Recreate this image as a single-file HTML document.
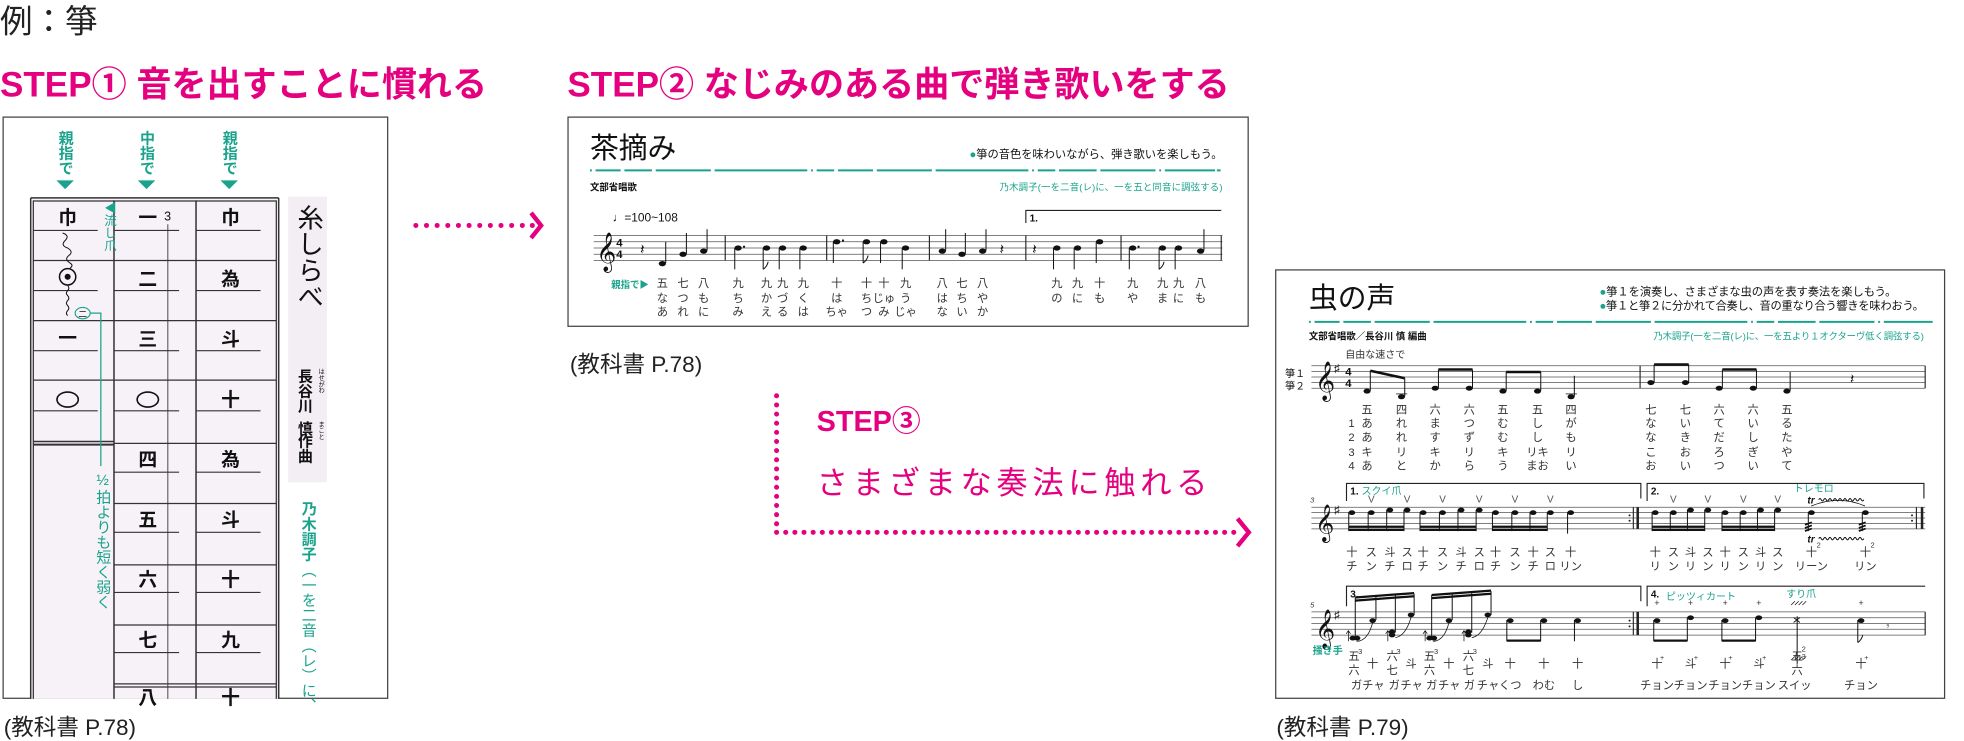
<!DOCTYPE html>
<html><head><meta charset="utf-8">
<style>
html,body{margin:0;padding:0;background:#fff;}
svg{display:block;}
text{font-family:"Liberation Sans","Noto Sans CJK JP",sans-serif;}
.v{writing-mode:vertical-rl;}
.t{fill:#1aa38c;}
.m{fill:#e4007f;}
</style></head>
<body>
<svg width="1964" height="741" viewBox="0 0 1568 591.6" preserveAspectRatio="none" xmlns="http://www.w3.org/2000/svg">
<!-- headings -->
<text x="0" y="26" font-size="26" fill="#222">例：箏</text>
<text x="0" y="77" font-size="28" font-weight="bold" class="m">STEP① 音を出すことに慣れる</text>
<text x="453" y="77" font-size="28" font-weight="bold" class="m">STEP② なじみのある曲で弾き歌いをする</text>
<text x="652" y="344" font-size="23" font-weight="bold" class="m">STEP③</text>
<text x="652" y="394" font-size="25" class="m" textLength="312">さまざまな奏法に触れる</text>

<!-- arrows -->
<g fill="#e4007f">
<circle cx="332" cy="180" r="2"/><circle cx="340.5" cy="180" r="2"/><circle cx="349" cy="180" r="2"/><circle cx="357.5" cy="180" r="2"/><circle cx="366" cy="180" r="2"/><circle cx="374.5" cy="180" r="2"/><circle cx="383" cy="180" r="2"/><circle cx="391.5" cy="180" r="2"/><circle cx="400" cy="180" r="2"/><circle cx="408.5" cy="180" r="2"/><circle cx="417" cy="180" r="2"/><circle cx="425" cy="180" r="2"/>
</g>
<polyline points="424,170 432,180 424,190" fill="none" stroke="#e4007f" stroke-width="3.5"/>
<line x1="620" y1="316" x2="620" y2="425" stroke="#e4007f" stroke-width="4" stroke-linecap="round" stroke-dasharray="0 7.3"/>
<line x1="620" y1="425" x2="992" y2="425" stroke="#e4007f" stroke-width="4" stroke-linecap="round" stroke-dasharray="0 7.3"/>
<polyline points="988,414 997,425 988,436" fill="none" stroke="#e4007f" stroke-width="3.5"/>

<!-- captions -->
<text x="3" y="587" font-size="18" fill="#222">(教科書 P.78)</text>
<text x="455" y="297" font-size="18" fill="#222">(教科書 P.78)</text>
<text x="1019" y="587" font-size="18" fill="#222">(教科書 P.79)</text>

<!-- ================= BOX 1 ================= -->
<rect x="2.5" y="93.5" width="307" height="464" fill="#fff" stroke="#444" stroke-width="1"/>
<g font-size="12" font-weight="bold" class="t">
<text x="52" y="104" class="v">親指で</text>
<text x="117" y="104" class="v">中指で</text>
<text x="183" y="104" class="v">親指で</text>
</g>
<g class="t"><polygon points="45,144 59,144 52,151"/><polygon points="110,144 124,144 117,151"/><polygon points="176,144 190,144 183,151"/></g>
<!-- table -->
<rect x="24.5" y="158" width="198" height="400" fill="#f7f2f7"/>
<g stroke="#333" fill="none">
<line x1="24.5" y1="158" x2="24.5" y2="558" stroke-width="1.2"/>
<line x1="222.5" y1="158" x2="222.5" y2="558" stroke-width="1.2"/>
<line x1="24.5" y1="158" x2="222.5" y2="158" stroke-width="1.2"/>
<line x1="26.6" y1="160" x2="26.6" y2="558" stroke-width="1"/>
<line x1="220.6" y1="160" x2="220.6" y2="558" stroke-width="1"/>
<line x1="26.6" y1="160.5" x2="220.6" y2="160.5" stroke-width="1"/>
<line x1="91" y1="160" x2="91" y2="558" stroke-width="1.2"/>
<line x1="156.5" y1="160" x2="156.5" y2="558" stroke-width="1.2"/>
<line x1="134" y1="179" x2="134" y2="558" stroke-width="0.7"/>
<!-- row lines all columns -->
<line x1="26.6" y1="208" x2="220.6" y2="208" stroke-width="1"/>
<line x1="26.6" y1="256" x2="220.6" y2="256" stroke-width="1"/>
<line x1="26.6" y1="303.5" x2="220.6" y2="303.5" stroke-width="1"/>
<line x1="26.6" y1="352.5" x2="91" y2="352.5" stroke-width="1.2"/>
<line x1="26.6" y1="355" x2="91" y2="355" stroke-width="1.6"/>
<line x1="91" y1="354" x2="220.6" y2="354" stroke-width="1"/>
<line x1="91" y1="402" x2="220.6" y2="402" stroke-width="1"/>
<line x1="91" y1="451" x2="220.6" y2="451" stroke-width="1"/>
<line x1="91" y1="499" x2="220.6" y2="499" stroke-width="1"/>
<line x1="91" y1="546" x2="220.6" y2="546" stroke-width="1"/>
<line x1="91" y1="548.5" x2="220.6" y2="548.5" stroke-width="1"/>
<!-- mid lines -->
<g stroke-width="0.9">
<line x1="26.6" y1="184" x2="78" y2="184"/><line x1="91" y1="184" x2="143" y2="184"/><line x1="156.5" y1="184" x2="208" y2="184"/>
<line x1="26.6" y1="232" x2="78" y2="232"/><line x1="91" y1="232" x2="143" y2="232"/><line x1="156.5" y1="232" x2="208" y2="232"/>
<line x1="26.6" y1="280" x2="78" y2="280"/><line x1="91" y1="280" x2="143" y2="280"/><line x1="156.5" y1="280" x2="208" y2="280"/>
<line x1="26.6" y1="328" x2="78" y2="328"/><line x1="91" y1="328" x2="143" y2="328"/><line x1="156.5" y1="328" x2="208" y2="328"/>
<line x1="91" y1="377" x2="143" y2="377"/><line x1="156.5" y1="377" x2="208" y2="377"/>
<line x1="91" y1="425" x2="143" y2="425"/><line x1="156.5" y1="425" x2="208" y2="425"/>
<line x1="91" y1="473" x2="143" y2="473"/><line x1="156.5" y1="473" x2="208" y2="473"/>
<line x1="91" y1="521" x2="143" y2="521"/><line x1="156.5" y1="521" x2="208" y2="521"/>
</g>
</g>
<g font-size="15" font-weight="bold" fill="#111" text-anchor="middle">
<text x="54" y="179">巾</text><text x="54" y="275">一</text>
<text x="118" y="179">一</text><text x="118" y="228">二</text><text x="118" y="276">三</text>
<text x="118" y="372">四</text><text x="118" y="420">五</text><text x="118" y="468">六</text><text x="118" y="516">七</text><text x="118" y="562">八</text>
<text x="184" y="179">巾</text><text x="184" y="228">為</text><text x="184" y="276">斗</text><text x="184" y="324">十</text>
<text x="184" y="372">為</text><text x="184" y="420">斗</text><text x="184" y="468">十</text><text x="184" y="516">九</text><text x="184" y="562">十</text>
</g>
<text x="131" y="176" font-size="10" fill="#111" font-family="Liberation Serif">3</text>
<ellipse cx="54" cy="319" rx="8.5" ry="6" fill="none" stroke="#111" stroke-width="1.3"/>
<ellipse cx="118" cy="319" rx="8.5" ry="6" fill="none" stroke="#111" stroke-width="1.3"/>
<!-- col1 row2 ornaments -->
<circle cx="54" cy="221" r="6.5" fill="none" stroke="#111" stroke-width="1.2"/>
<circle cx="54" cy="221" r="2.4" fill="#111"/>
<path d="M50,186 q6,2 2,6 q-4,4 2,6 q5,3 1,6 q-4,3 1,6 q3,2 0,4 M54,228 q2,2 0,4 q-2,2 0,4 q2,2 0,4 q-2,2 0,4 q2,2 0,4 q-2,2 0,4" fill="none" stroke="#111" stroke-width="0.8"/>
<ellipse cx="66" cy="250" rx="6" ry="4.5" fill="none" stroke="#1aa38c" stroke-width="0.9"/>
<text x="66" y="253" font-size="7" text-anchor="middle" fill="#111">二</text>
<polyline points="72,250 80.5,250 80.5,372" fill="none" stroke="#1aa38c" stroke-width="1"/>
<text x="82" y="377" font-size="12" class="t v">½拍よりも短く弱く</text>
<text x="87" y="161" font-size="10" class="t v">◀流し爪</text>
<!-- title vertical box -->
<rect x="230" y="157" width="31" height="228" fill="#f3eef3"/>
<text x="246" y="163" font-size="21" fill="#111" class="v">糸しらべ</text>
<text x="243" y="294" font-size="12" font-weight="bold" fill="#111" class="v">長谷川</text>
<text x="243" y="336" font-size="12" font-weight="bold" fill="#111" class="v">慎</text>
<text x="243" y="346" font-size="12" font-weight="bold" fill="#111" class="v">作曲</text>
<text x="256" y="294" font-size="5" fill="#111" class="v">はせがわ</text>
<text x="256" y="336" font-size="5" fill="#111" class="v">まこと</text>
<text x="246" y="400" font-size="12" font-weight="bold" class="t v">乃木調子</text>
<text x="246" y="449" font-size="12" class="t v">（一を二音（レ）に、</text>

<!-- ================= BOX 2 ================= -->
<rect x="453.5" y="93.5" width="543" height="167" fill="#fff" stroke="#444" stroke-width="1"/>
<text x="471" y="126" font-size="23" fill="#111">茶摘み</text>
<text x="774" y="126" font-size="9" fill="#111" textLength="202"><tspan class="t">●</tspan>箏の音色を味わいながら、弾き歌いを楽しもう。</text>
<line x1="471" y1="136" x2="976" y2="136" stroke="#1aa38c" stroke-width="1.6" stroke-dasharray="1.5 3 20 3 22 3 44 3 74 3 1.5 3 14 3 28 3 44 3 74 3 1.5 3 14 3 30 3 44 3 1.5 3 40"/>
<text x="471" y="152" font-size="7.5" font-weight="bold" fill="#111">文部省唱歌</text>
<text x="976" y="152" font-size="7.5" text-anchor="end" class="t" textLength="178">乃木調子(一を二音(レ)に、一を五と同音に調弦する)</text>
<text x="489" y="177" font-size="9.5" fill="#111" font-family="Liberation Serif">♩=100~108</text>
<g stroke="#555" stroke-width="0.6">
<line x1="474" y1="188" x2="976" y2="188"/><line x1="474" y1="193" x2="976" y2="193"/><line x1="474" y1="198" x2="976" y2="198"/><line x1="474" y1="203" x2="976" y2="203"/><line x1="474" y1="208" x2="976" y2="208"/>
</g>
<g stroke="#222" stroke-width="0.9">
<line x1="579" y1="188" x2="579" y2="208"/><line x1="660" y1="188" x2="660" y2="208"/><line x1="742" y1="188" x2="742" y2="208"/><line x1="819" y1="188" x2="819" y2="208"/><line x1="895" y1="188" x2="895" y2="208"/><line x1="975" y1="188" x2="975" y2="208"/>
<polyline points="819,178 819,168 975,168" fill="none"/>
</g>
<text x="822" y="177" font-size="8" font-weight="bold" fill="#111" font-family="Liberation Serif">1.</text>
<text x="476" y="210" font-size="27" fill="#111" font-family="DejaVu Sans">𝄞</text>
<text x="492" y="197" font-size="9" font-weight="bold" fill="#111" font-family="Liberation Serif">4</text>
<text x="492" y="206" font-size="9" font-weight="bold" fill="#111" font-family="Liberation Serif">4</text>
<g fill="#111" stroke="#111" stroke-width="0.8">
<!-- rests -->
<text x="511" y="203" font-size="12" stroke="none" font-family="DejaVu Sans">𝄽</text>
<text x="798" y="203" font-size="12" stroke="none" font-family="DejaVu Sans">𝄽</text>
<text x="824" y="203" font-size="12" stroke="none" font-family="DejaVu Sans">𝄽</text>
<!-- stem up notes -->
<ellipse cx="528.8" cy="210.5" rx="2.9" ry="2.1" stroke="none"/><line x1="531.5" y1="210" x2="531.5" y2="193"/>
<ellipse cx="545.3" cy="203" rx="2.9" ry="2.1" stroke="none"/><line x1="548" y1="203" x2="548" y2="186"/>
<ellipse cx="561.8" cy="200.5" rx="2.9" ry="2.1" stroke="none"/><line x1="564.5" y1="200" x2="564.5" y2="183"/>
<ellipse cx="752.3" cy="200.5" rx="2.9" ry="2.1" stroke="none"/><line x1="755" y1="200" x2="755" y2="183"/>
<ellipse cx="768" cy="203" rx="2.9" ry="2.1" stroke="none"/><line x1="770.7" y1="203" x2="770.7" y2="186"/>
<ellipse cx="784.5" cy="200.5" rx="2.9" ry="2.1" stroke="none"/><line x1="787.2" y1="200" x2="787.2" y2="183"/>
<ellipse cx="958.5" cy="200.5" rx="2.9" ry="2.1" stroke="none"/><line x1="961.2" y1="200" x2="961.2" y2="183"/>
<!-- stem down -->
<ellipse cx="589.3" cy="198" rx="2.9" ry="2.1" stroke="none"/><line x1="586.6" y1="198" x2="586.6" y2="215"/><circle cx="594" cy="197" r="0.9" stroke="none"/>
<ellipse cx="612" cy="198" rx="2.9" ry="2.1" stroke="none"/><line x1="609.3" y1="198" x2="609.3" y2="215"/><path d="M609.3,215 q3,-2 4,-6" fill="none"/>
<ellipse cx="624.8" cy="198" rx="2.9" ry="2.1" stroke="none"/><line x1="622.1" y1="198" x2="622.1" y2="215"/>
<ellipse cx="641.3" cy="198" rx="2.9" ry="2.1" stroke="none"/><line x1="638.6" y1="198" x2="638.6" y2="215"/>
<ellipse cx="668" cy="193" rx="2.9" ry="2.1" stroke="none"/><line x1="665.3" y1="193" x2="665.3" y2="210"/><circle cx="673" cy="192" r="0.9" stroke="none"/>
<ellipse cx="691.8" cy="193" rx="2.9" ry="2.1" stroke="none"/><line x1="689.1" y1="193" x2="689.1" y2="210"/><path d="M689.1,210 q3,-2 4,-6" fill="none"/>
<ellipse cx="705.7" cy="193" rx="2.9" ry="2.1" stroke="none"/><line x1="703" y1="193" x2="703" y2="210"/>
<ellipse cx="723" cy="198" rx="2.9" ry="2.1" stroke="none"/><line x1="720.3" y1="198" x2="720.3" y2="215"/>
<ellipse cx="843.8" cy="198" rx="2.9" ry="2.1" stroke="none"/><line x1="841.1" y1="198" x2="841.1" y2="215"/>
<ellipse cx="860.3" cy="198" rx="2.9" ry="2.1" stroke="none"/><line x1="857.6" y1="198" x2="857.6" y2="215"/>
<ellipse cx="877.9" cy="193" rx="2.9" ry="2.1" stroke="none"/><line x1="875.2" y1="193" x2="875.2" y2="210"/>
<ellipse cx="904.3" cy="198" rx="2.9" ry="2.1" stroke="none"/><line x1="901.6" y1="198" x2="901.6" y2="215"/><circle cx="909" cy="197" r="0.9" stroke="none"/>
<ellipse cx="928.1" cy="198" rx="2.9" ry="2.1" stroke="none"/><line x1="925.4" y1="198" x2="925.4" y2="215"/><path d="M925.4,215 q3,-2 4,-6" fill="none"/>
<ellipse cx="940.9" cy="198" rx="2.9" ry="2.1" stroke="none"/><line x1="938.2" y1="198" x2="938.2" y2="215"/>
</g>
<text x="488" y="230" font-size="7.5" font-weight="bold" class="t">親指で▶</text>
<g font-size="9" fill="#333" text-anchor="middle">
<text y="229"><tspan x="528.8">五</tspan><tspan x="545.3">七</tspan><tspan x="561.8">八</tspan><tspan x="589.3">九</tspan><tspan x="612">九</tspan><tspan x="624.8">九</tspan><tspan x="641.3">九</tspan><tspan x="668">十</tspan><tspan x="691.8">十</tspan><tspan x="705.7">十</tspan><tspan x="723">九</tspan><tspan x="752.3">八</tspan><tspan x="768">七</tspan><tspan x="784.5">八</tspan><tspan x="843.8">九</tspan><tspan x="860.3">九</tspan><tspan x="877.9">十</tspan><tspan x="904.3">九</tspan><tspan x="928.1">九</tspan><tspan x="940.9">九</tspan><tspan x="958.5">八</tspan></text>
<text y="241"><tspan x="528.8">な</tspan><tspan x="545.3">つ</tspan><tspan x="561.8">も</tspan><tspan x="589.3">ち</tspan><tspan x="612">か</tspan><tspan x="624.8">づ</tspan><tspan x="641.3">く</tspan><tspan x="668">は</tspan><tspan x="691.8">ち</tspan><tspan x="705.7">じゅ</tspan><tspan x="723">う</tspan><tspan x="752.3">は</tspan><tspan x="768">ち</tspan><tspan x="784.5">や</tspan><tspan x="843.8">の</tspan><tspan x="860.3">に</tspan><tspan x="877.9">も</tspan><tspan x="904.3">や</tspan><tspan x="928.1">ま</tspan><tspan x="940.9">に</tspan><tspan x="958.5">も</tspan></text>
<text y="252"><tspan x="528.8">あ</tspan><tspan x="545.3">れ</tspan><tspan x="561.8">に</tspan><tspan x="589.3">み</tspan><tspan x="612">え</tspan><tspan x="624.8">る</tspan><tspan x="641.3">は</tspan><tspan x="668">ちゃ</tspan><tspan x="691.8">つ</tspan><tspan x="705.7">み</tspan><tspan x="723">じゃ</tspan><tspan x="752.3">な</tspan><tspan x="768">い</tspan><tspan x="784.5">か</tspan></text>
</g>

<!-- ================= BOX 3 ================= -->
<rect x="1018.5" y="215.5" width="534" height="342" fill="#fff" stroke="#444" stroke-width="1"/>
<text x="1045" y="246" font-size="23" fill="#111">虫の声</text>
<text x="1277" y="236" font-size="9" fill="#111" textLength="237"><tspan class="t">●</tspan>箏１を演奏し、さまざまな虫の声を表す奏法を楽しもう。</text>
<text x="1277" y="247" font-size="9" fill="#111" textLength="259"><tspan class="t">●</tspan>箏１と箏２に分かれて合奏し、音の重なり合う響きを味わおう。</text>
<line x1="1045" y1="257" x2="1543" y2="257" stroke="#1aa38c" stroke-width="1.6" stroke-dasharray="1.5 3 20 3 22 3 44 3 74 3 1.5 3 14 3 28 3 44 3 74 3 1.5 3 14 3 30 3 44 3 1.5 3 40"/>
<text x="1045" y="271" font-size="7.5" font-weight="bold" fill="#111">文部省唱歌／長谷川 慎 編曲</text>
<text x="1536" y="271" font-size="7.5" text-anchor="end" class="t" textLength="216">乃木調子(一を二音(レ)に、一を五より１オクターヴ低く調弦する)</text>
<text x="1074" y="286" font-size="8" fill="#333">自由な速さで</text>
<text x="1026" y="301" font-size="8" fill="#111">箏１</text>
<text x="1026" y="311" font-size="8" fill="#111">箏２</text>
<!-- staff lines -->
<g stroke="#555" stroke-width="0.6">
<line x1="1047" y1="292" x2="1537" y2="292"/><line x1="1047" y1="296.5" x2="1537" y2="296.5"/><line x1="1047" y1="301" x2="1537" y2="301"/><line x1="1047" y1="305.5" x2="1537" y2="305.5"/><line x1="1047" y1="310" x2="1537" y2="310"/>
<line x1="1047" y1="405" x2="1537" y2="405"/><line x1="1047" y1="409.3" x2="1537" y2="409.3"/><line x1="1047" y1="413.6" x2="1537" y2="413.6"/><line x1="1047" y1="417.9" x2="1537" y2="417.9"/><line x1="1047" y1="422.2" x2="1537" y2="422.2"/>
<line x1="1047" y1="488.5" x2="1537" y2="488.5"/><line x1="1047" y1="493.2" x2="1537" y2="493.2"/><line x1="1047" y1="497.8" x2="1537" y2="497.8"/><line x1="1047" y1="502.4" x2="1537" y2="502.4"/><line x1="1047" y1="507.1" x2="1537" y2="507.1"/>
</g>
<g fill="#111" font-family="DejaVu Sans">
<text x="1050" y="313" font-size="27">𝄞</text><text x="1050" y="426" font-size="26">𝄞</text><text x="1050" y="511" font-size="27">𝄞</text>
<text x="1065" y="297" font-size="9">♯</text><text x="1065" y="410" font-size="9">♯</text><text x="1065" y="494" font-size="9">♯</text>
</g>
<text x="1074" y="300" font-size="9" font-weight="bold" fill="#111" font-family="Liberation Serif">4</text>
<text x="1074" y="309" font-size="9" font-weight="bold" fill="#111" font-family="Liberation Serif">4</text>
<text x="1046" y="401" font-size="6" font-style="italic" fill="#333" font-family="Liberation Serif">3</text>
<text x="1046" y="485" font-size="6" font-style="italic" fill="#333" font-family="Liberation Serif">5</text>
<g stroke="#222" stroke-width="0.9" fill="none">
<line x1="1309.4" y1="292" x2="1309.4" y2="310"/>
<line x1="1537" y1="292" x2="1537" y2="310"/>
<!-- staff2 repeats -->
<line x1="1304" y1="405" x2="1304" y2="422.2"/><line x1="1307.5" y1="405" x2="1307.5" y2="422.2" stroke-width="2"/>
<line x1="1530" y1="405" x2="1530" y2="422.2"/><line x1="1534.5" y1="405" x2="1534.5" y2="422.2" stroke-width="2"/>
<line x1="1304" y1="488.5" x2="1304" y2="507.1"/><line x1="1307.5" y1="488.5" x2="1307.5" y2="507.1" stroke-width="2"/>
<line x1="1537" y1="488.5" x2="1537" y2="507.1"/>
<!-- voltas -->
<polyline points="1075,400 1075,386 1310,386 1310,398"/>
<polyline points="1315,400 1315,386 1536,386 1536,398"/>
<polyline points="1075,484 1075,468 1310,468 1310,480"/>
<polyline points="1315,484 1315,468 1537,468"/>
</g>
<g fill="#222" stroke="none">
<circle cx="1301" cy="411.5" r="0.8"/><circle cx="1301" cy="415.8" r="0.8"/><circle cx="1526.5" cy="411.5" r="0.8"/><circle cx="1526.5" cy="415.8" r="0.8"/>
<circle cx="1301" cy="495.5" r="0.8"/><circle cx="1301" cy="500.1" r="0.8"/>
</g>
<g font-size="8" font-weight="bold" fill="#111" font-family="Liberation Serif">
<text x="1078" y="395">1.</text><text x="1318" y="395">2.</text><text x="1078" y="477">3.</text><text x="1318" y="477">4.</text>
</g>
<g font-size="8" class="t">
<text x="1087" y="395">スクイ爪</text><text x="1432" y="393">トレモロ</text>
<text x="1330" y="479">ピッツィカート</text><text x="1426" y="477">すり爪</text>
<text x="1048" y="522" font-weight="bold">掻き手</text>
</g>
<!-- staff1 notes -->
<g fill="#111" stroke="#111" stroke-width="0.8">
<ellipse cx="1091.4" cy="312.3" rx="2.8" ry="2" stroke="none"/><line x1="1094" y1="312" x2="1094" y2="296"/>
<ellipse cx="1118.9" cy="316.8" rx="2.8" ry="2" stroke="none"/><line x1="1121.5" y1="316.5" x2="1121.5" y2="302"/>
<line x1="1094" y1="296" x2="1121.5" y2="302" stroke-width="2"/>
<line x1="1114.5" y1="314.5" x2="1123.5" y2="314.5" stroke-width="0.6"/>
<ellipse cx="1145.8" cy="310" rx="2.8" ry="2" stroke="none"/><line x1="1148.4" y1="310" x2="1148.4" y2="295"/>
<ellipse cx="1173" cy="310" rx="2.8" ry="2" stroke="none"/><line x1="1175.6" y1="310" x2="1175.6" y2="295"/>
<line x1="1148.4" y1="295" x2="1175.6" y2="295" stroke-width="2"/>
<ellipse cx="1199.9" cy="312.3" rx="2.8" ry="2" stroke="none"/><line x1="1202.5" y1="312" x2="1202.5" y2="297"/>
<ellipse cx="1227.5" cy="312.3" rx="2.8" ry="2" stroke="none"/><line x1="1230.1" y1="312" x2="1230.1" y2="297"/>
<line x1="1202.5" y1="297" x2="1230.1" y2="297" stroke-width="2"/>
<ellipse cx="1254.3" cy="316.8" rx="2.8" ry="2" stroke="none"/><line x1="1256.9" y1="316.5" x2="1256.9" y2="300"/>
<line x1="1250" y1="314.5" x2="1259" y2="314.5" stroke-width="0.6"/>
<ellipse cx="1318" cy="305.5" rx="2.8" ry="2" stroke="none"/><line x1="1320.6" y1="305.5" x2="1320.6" y2="291"/>
<ellipse cx="1345.6" cy="305.5" rx="2.8" ry="2" stroke="none"/><line x1="1348.2" y1="305.5" x2="1348.2" y2="291"/>
<line x1="1320.6" y1="291" x2="1348.2" y2="291" stroke-width="2"/>
<ellipse cx="1372.5" cy="310" rx="2.8" ry="2" stroke="none"/><line x1="1375.1" y1="310" x2="1375.1" y2="295"/>
<ellipse cx="1399.7" cy="310" rx="2.8" ry="2" stroke="none"/><line x1="1402.3" y1="310" x2="1402.3" y2="295"/>
<line x1="1375.1" y1="295" x2="1402.3" y2="295" stroke-width="2"/>
<ellipse cx="1426.6" cy="312.3" rx="2.8" ry="2" stroke="none"/><line x1="1429.2" y1="312" x2="1429.2" y2="297"/>
<text x="1477" y="306" font-size="11" stroke="none" font-family="DejaVu Sans">𝄽</text>
</g>
<g font-size="9" fill="#333" text-anchor="middle">
<text x="1079" y="341">1</text><text x="1079" y="352">2</text><text x="1079" y="364">3</text><text x="1079" y="375">4</text>
<text y="330"><tspan x="1091.4">五</tspan><tspan x="1118.9">四</tspan><tspan x="1145.8">六</tspan><tspan x="1173">六</tspan><tspan x="1199.9">五</tspan><tspan x="1227.5">五</tspan><tspan x="1254.3">四</tspan><tspan x="1318">七</tspan><tspan x="1345.6">七</tspan><tspan x="1372.5">六</tspan><tspan x="1399.7">六</tspan><tspan x="1426.6">五</tspan></text>
<text y="341"><tspan x="1091.4">あ</tspan><tspan x="1118.9">れ</tspan><tspan x="1145.8">ま</tspan><tspan x="1173">つ</tspan><tspan x="1199.9">む</tspan><tspan x="1227.5">し</tspan><tspan x="1254.3">が</tspan><tspan x="1318">な</tspan><tspan x="1345.6">い</tspan><tspan x="1372.5">て</tspan><tspan x="1399.7">い</tspan><tspan x="1426.6">る</tspan></text>
<text y="352"><tspan x="1091.4">あ</tspan><tspan x="1118.9">れ</tspan><tspan x="1145.8">す</tspan><tspan x="1173">ず</tspan><tspan x="1199.9">む</tspan><tspan x="1227.5">し</tspan><tspan x="1254.3">も</tspan><tspan x="1318">な</tspan><tspan x="1345.6">き</tspan><tspan x="1372.5">だ</tspan><tspan x="1399.7">し</tspan><tspan x="1426.6">た</tspan></text>
<text y="364"><tspan x="1091.4">キ</tspan><tspan x="1118.9">リ</tspan><tspan x="1145.8">キ</tspan><tspan x="1173">リ</tspan><tspan x="1199.9">キ</tspan><tspan x="1227.5">リキ</tspan><tspan x="1254.3">リ</tspan><tspan x="1318">こ</tspan><tspan x="1345.6">お</tspan><tspan x="1372.5">ろ</tspan><tspan x="1399.7">ぎ</tspan><tspan x="1426.6">や</tspan></text>
<text y="375"><tspan x="1091.4">あ</tspan><tspan x="1118.9">と</tspan><tspan x="1145.8">か</tspan><tspan x="1173">ら</tspan><tspan x="1199.9">う</tspan><tspan x="1227.5">まお</tspan><tspan x="1254.3">い</tspan><tspan x="1318">お</tspan><tspan x="1345.6">い</tspan><tspan x="1372.5">つ</tspan><tspan x="1399.7">い</tspan><tspan x="1426.6">て</tspan></text>
</g>
<!-- staff2 -->
<g font-size="8" fill="#555" text-anchor="middle">
<text y="401"><tspan x="1094.8">V</tspan><tspan x="1123.4">V</tspan><tspan x="1151.7">V</tspan><tspan x="1181">V</tspan><tspan x="1209.5">V</tspan><tspan x="1237.8">V</tspan><tspan x="1336">V</tspan><tspan x="1363.5">V</tspan><tspan x="1391.8">V</tspan><tspan x="1419.3">V</tspan></text>
</g>
<g fill="#111" stroke="#111" stroke-width="0.8">
<g>
<ellipse cx="1079.3" cy="409.3" rx="2.7" ry="1.9" stroke="none"/><ellipse cx="1094.8" cy="409.3" rx="2.7" ry="1.9" stroke="none"/><ellipse cx="1109.6" cy="407.2" rx="2.7" ry="1.9" stroke="none"/><ellipse cx="1123.4" cy="407.2" rx="2.7" ry="1.9" stroke="none"/>
<ellipse cx="1136.2" cy="409.3" rx="2.7" ry="1.9" stroke="none"/><ellipse cx="1151.7" cy="409.3" rx="2.7" ry="1.9" stroke="none"/><ellipse cx="1166.5" cy="407.2" rx="2.7" ry="1.9" stroke="none"/><ellipse cx="1181" cy="407.2" rx="2.7" ry="1.9" stroke="none"/>
<ellipse cx="1194" cy="409.3" rx="2.7" ry="1.9" stroke="none"/><ellipse cx="1209.5" cy="409.3" rx="2.7" ry="1.9" stroke="none"/><ellipse cx="1224" cy="409.3" rx="2.7" ry="1.9" stroke="none"/><ellipse cx="1237.8" cy="409.3" rx="2.7" ry="1.9" stroke="none"/>
<ellipse cx="1254" cy="409.3" rx="2.7" ry="1.9" stroke="none"/>
<ellipse cx="1321.5" cy="409.3" rx="2.7" ry="1.9" stroke="none"/><ellipse cx="1336" cy="409.3" rx="2.7" ry="1.9" stroke="none"/><ellipse cx="1349.7" cy="407.2" rx="2.7" ry="1.9" stroke="none"/><ellipse cx="1363.5" cy="407.2" rx="2.7" ry="1.9" stroke="none"/>
<ellipse cx="1377.3" cy="409.3" rx="2.7" ry="1.9" stroke="none"/><ellipse cx="1391.8" cy="409.3" rx="2.7" ry="1.9" stroke="none"/><ellipse cx="1405.6" cy="407.2" rx="2.7" ry="1.9" stroke="none"/><ellipse cx="1419.3" cy="407.2" rx="2.7" ry="1.9" stroke="none"/>
<ellipse cx="1446.2" cy="409.3" rx="2.7" ry="1.9" stroke="none"/><ellipse cx="1489.3" cy="409.3" rx="2.7" ry="1.9" stroke="none"/>
</g>
<path d="M1076.8,409 V424 M1092.3,409 V424 M1107.1,407 V424 M1120.9,407 V424 M1133.7,409 V424 M1149.2,409 V424 M1164,407 V424 M1178.5,407 V424 M1191.5,409 V424 M1207,409 V424 M1221.5,409 V424 M1235.3,409 V424 M1251.5,409 V426 M1319,409 V424 M1333.5,409 V424 M1347.2,407 V424 M1361,407 V424 M1374.8,409 V424 M1389.3,409 V424 M1403.1,407 V424 M1416.8,407 V424 M1443.7,409 V424 M1486.8,409 V424"/>
<path d="M1076.8,423 H1120.9 M1076.8,420.5 H1120.9 M1133.7,423 H1178.5 M1133.7,420.5 H1178.5 M1191.5,423 H1235.3 M1191.5,420.5 H1235.3 M1319,423 H1361 M1319,420.5 H1361 M1374.8,423 H1416.8 M1374.8,420.5 H1416.8" stroke-width="1.8"/>
<path d="M1441,419 l5.5,-2 M1441,421.5 l5.5,-2 M1441,424 l5.5,-2 M1484,419 l5.5,-2 M1484,421.5 l5.5,-2 M1484,424 l5.5,-2" stroke-width="1.3"/>
<path d="M1446,404 Q1468,395 1489,404" fill="none" stroke-width="0.6"/>
<path d="M1452,399 q1,-2 2,0 q1,2 2,0 q1,-2 2,0 q1,2 2,0 q1,-2 2,0 q1,2 2,0 q1,-2 2,0 q1,2 2,0 q1,-2 2,0 q1,2 2,0 q1,-2 2,0 q1,2 2,0 q1,-2 2,0 q1,2 2,0 q1,-2 2,0 q1,2 2,0 q1,-2 2,0 q1,2 2,0" fill="none" stroke-width="0.8"/>
<path d="M1452,430 q1,-2 2,0 q1,2 2,0 q1,-2 2,0 q1,2 2,0 q1,-2 2,0 q1,2 2,0 q1,-2 2,0 q1,2 2,0 q1,-2 2,0 q1,2 2,0 q1,-2 2,0 q1,2 2,0 q1,-2 2,0 q1,2 2,0 q1,-2 2,0 q1,2 2,0 q1,-2 2,0 q1,2 2,0" fill="none" stroke-width="0.8"/>
</g>
<text x="1443" y="402" font-size="8" font-weight="bold" font-style="italic" fill="#111" font-family="Liberation Serif">tr</text>
<text x="1443" y="433" font-size="8" font-weight="bold" font-style="italic" fill="#111" font-family="Liberation Serif">tr</text>
<g font-size="9" fill="#333" text-anchor="middle">
<text y="444"><tspan x="1079.3">十</tspan><tspan x="1094.8">ス</tspan><tspan x="1109.6">斗</tspan><tspan x="1123.4">ス</tspan><tspan x="1136.2">十</tspan><tspan x="1151.7">ス</tspan><tspan x="1166.5">斗</tspan><tspan x="1181">ス</tspan><tspan x="1194">十</tspan><tspan x="1209.5">ス</tspan><tspan x="1224">十</tspan><tspan x="1237.8">ス</tspan><tspan x="1254">十</tspan><tspan x="1321.5">十</tspan><tspan x="1336">ス</tspan><tspan x="1349.7">斗</tspan><tspan x="1363.5">ス</tspan><tspan x="1377.3">十</tspan><tspan x="1391.8">ス</tspan><tspan x="1405.6">斗</tspan><tspan x="1419.3">ス</tspan><tspan x="1446.2">十</tspan><tspan x="1489.3">十</tspan></text>
<text y="455"><tspan x="1079.3">チ</tspan><tspan x="1094.8">ン</tspan><tspan x="1109.6">チ</tspan><tspan x="1123.4">ロ</tspan><tspan x="1136.2">チ</tspan><tspan x="1151.7">ン</tspan><tspan x="1166.5">チ</tspan><tspan x="1181">ロ</tspan><tspan x="1194">チ</tspan><tspan x="1209.5">ン</tspan><tspan x="1224">チ</tspan><tspan x="1237.8">ロ</tspan><tspan x="1254">リン</tspan><tspan x="1321.5">リ</tspan><tspan x="1336">ン</tspan><tspan x="1349.7">リ</tspan><tspan x="1363.5">ン</tspan><tspan x="1377.3">リ</tspan><tspan x="1391.8">ン</tspan><tspan x="1405.6">リ</tspan><tspan x="1419.3">ン</tspan><tspan x="1446.2">リーン</tspan><tspan x="1489.3">リン</tspan></text>
<text x="1452" y="437" font-size="6">2</text><text x="1495" y="437" font-size="6">2</text>
</g>
<!-- staff3 notes -->
<g fill="#111" stroke="#111" stroke-width="0.8">
<g stroke="none">
<ellipse cx="1080" cy="509.5" rx="2.6" ry="1.9"/><ellipse cx="1083.5" cy="509.5" rx="2.6" ry="1.9"/><ellipse cx="1095.9" cy="495.5" rx="2.6" ry="1.9"/>
<ellipse cx="1111.4" cy="507" rx="2.6" ry="1.9"/><ellipse cx="1111.4" cy="504.5" rx="2.6" ry="1.9"/><ellipse cx="1126.5" cy="491" rx="2.6" ry="1.9"/>
<ellipse cx="1141.3" cy="509.5" rx="2.6" ry="1.9"/><ellipse cx="1144.8" cy="509.5" rx="2.6" ry="1.9"/><ellipse cx="1156.8" cy="495.5" rx="2.6" ry="1.9"/>
<ellipse cx="1172.3" cy="507" rx="2.6" ry="1.9"/><ellipse cx="1172.3" cy="504.5" rx="2.6" ry="1.9"/><ellipse cx="1187.8" cy="491" rx="2.6" ry="1.9"/>
<ellipse cx="1205.7" cy="495.5" rx="2.7" ry="1.9"/><ellipse cx="1232.6" cy="495.5" rx="2.7" ry="1.9"/><ellipse cx="1259.5" cy="495.5" rx="2.7" ry="1.9"/>
<ellipse cx="1322.9" cy="495.5" rx="2.7" ry="1.9"/><ellipse cx="1349.7" cy="493.2" rx="2.7" ry="1.9"/><ellipse cx="1377.3" cy="495.5" rx="2.7" ry="1.9"/><ellipse cx="1404.2" cy="493.2" rx="2.7" ry="1.9"/><ellipse cx="1485.8" cy="495.5" rx="2.7" ry="1.9"/>
</g>
<path d="M1082,509 V477 M1098.5,495 V476 M1114,505 V475 M1129,491 V474 M1143,509 V475 M1159.4,495 V474 M1175,505 V473 M1190.4,491 V472 M1203,495 V512 M1230,495 V512 M1257,495 V512 M1320.3,495 V512 M1347.1,493 V512 M1374.7,495 V512 M1401.6,493 V512 M1434.8,492 V530 M1483.2,495 V513"/>
<path d="M1082,477 L1129,473.5 M1082,479.5 L1129,476 M1143,475 L1190.4,471.5 M1143,477.5 L1190.4,474 M1203,511.5 H1230 M1320.3,511.5 H1347.1 M1374.7,511.5 H1401.6" stroke-width="1.8"/>
<path d="M1083,512 Q1092,512 1095.9,497 M1114,509 Q1122,508 1126.5,493 M1144,512 Q1153,512 1156.8,497 M1175,509 Q1183,508 1187.8,493" fill="none" stroke-width="0.6"/>
<path d="M1483.2,513 q3,-2 4,-6" fill="none"/>
<path d="M1432,493 l5,4 M1437,493 l-5,4" stroke-width="0.7"/>
<path d="M1430,483 l3,-3 M1433,483 l3,-3 M1436,483 l3,-3 M1439,483 l3,-3 M1430,527 l3,-3 M1433,527 l3,-3 M1436,527 l3,-3 M1439,527 l3,-3" stroke-width="0.6"/>
<path d="M1076.5,512 V504 M1074.8,506 L1076.5,503.5 L1078.2,506 M1108,512 V504 M1106.3,506 L1108,503.5 L1109.7,506 M1137.8,512 V504 M1136.1,506 L1137.8,503.5 L1139.5,506 M1168.8,512 V504 M1167.1,506 L1168.8,503.5 L1170.5,506" fill="none" stroke-width="0.6"/>
<text x="1506" y="503" font-size="9" stroke="none" font-family="DejaVu Sans">𝄾</text>
</g>
<g font-size="7" fill="#333" text-anchor="middle">
<text y="484"><tspan x="1322.9">+</tspan><tspan x="1349.7">+</tspan><tspan x="1377.3">+</tspan><tspan x="1404.2">+</tspan><tspan x="1485.8">+</tspan></text>
</g>
<g font-size="9" fill="#333" text-anchor="middle">
<text x="1081" y="527">五</text><text x="1081" y="538">六</text><text x="1111.4" y="527">六</text><text x="1111.4" y="538">七</text><text x="1141.3" y="527">五</text><text x="1141.3" y="538">六</text><text x="1172.3" y="527">六</text><text x="1172.3" y="538">七</text>
<text x="1434.8" y="527">五</text><text x="1434.8" y="538">六</text>
<text y="533"><tspan x="1095.9">十</tspan><tspan x="1126.5">斗</tspan><tspan x="1156.8">十</tspan><tspan x="1187.8">斗</tspan><tspan x="1205.7">十</tspan><tspan x="1232.6">十</tspan><tspan x="1259.5">十</tspan><tspan x="1322.9">十</tspan><tspan x="1349.7">斗</tspan><tspan x="1377.3">十</tspan><tspan x="1404.2">斗</tspan><tspan x="1485.8">十</tspan></text>
<text y="550"><tspan x="1083">ガ</tspan><tspan x="1096.5">チャ</tspan><tspan x="1113">ガ</tspan><tspan x="1127">チャ</tspan><tspan x="1143">ガ</tspan><tspan x="1157">チャ</tspan><tspan x="1173">ガ</tspan><tspan x="1188">チャ</tspan><tspan x="1205.7">くつ</tspan><tspan x="1232.6">わむ</tspan><tspan x="1259.5">し</tspan><tspan x="1322.9">チョン</tspan><tspan x="1349.7">チョン</tspan><tspan x="1377.3">チョン</tspan><tspan x="1404.2">チョン</tspan><tspan x="1432.8">スイッ</tspan><tspan x="1485.8">チョン</tspan></text>
<g font-size="6"><text x="1086" y="522">3</text><text x="1116.5" y="522">3</text><text x="1146.5" y="522">3</text><text x="1177.5" y="522">3</text><text x="1440" y="520">2</text><text x="1440" y="526">3</text>
<text x="1327" y="527">+</text><text x="1354" y="527">+</text><text x="1381.5" y="527">+</text><text x="1408.5" y="527">+</text><text x="1490" y="527">+</text></g>
</g>
</svg>
</body></html>
